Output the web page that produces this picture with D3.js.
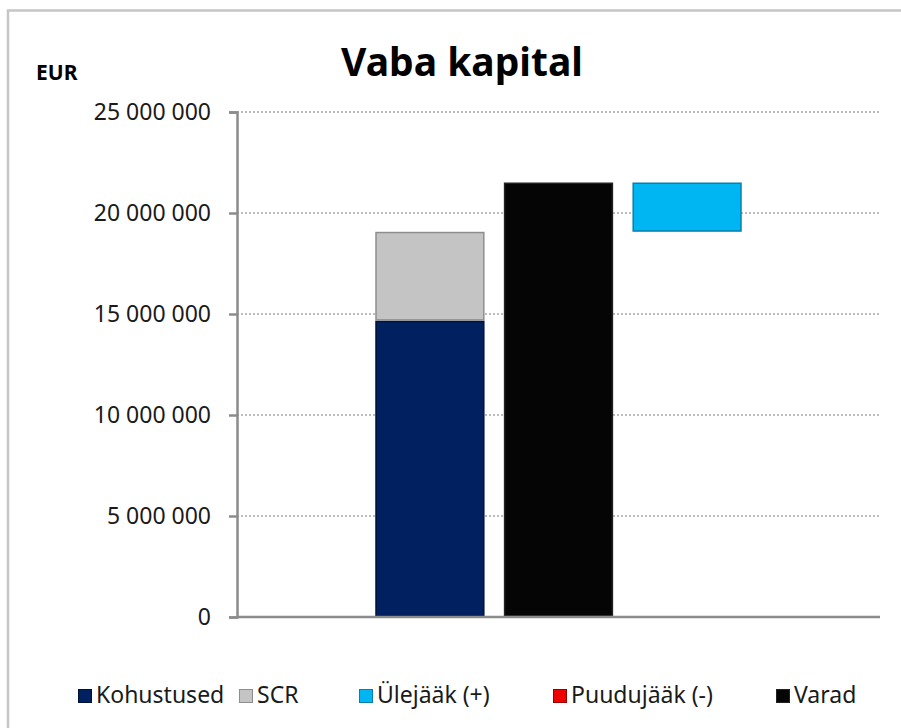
<!DOCTYPE html>
<html>
<head>
<meta charset="utf-8">
<script src="https://cdn.jsdelivr.net/npm/d3@7"></script>
<style>
  body { margin: 0; background: #fff; }
  svg { display: block; font-family: "Noto Sans", sans-serif; }
</style>
</head>
<body>
<svg id="chart" width="901" height="728"></svg>
<script>
// categories along x (first and last are empty slots)
const categories = ["s0", "s1", "s2", "s3", "s4"];
// series values per category
const kohustused = [0, 14670000, 0, 0, 0];
const scr = [0, 4400000, 0, 0, 0];
const varad = [0, 0, 21510000, 0, 0];
const ulejaakBase = [0, 0, 0, 19070000, 0];   // invisible offset
const ulejaak = [0, 0, 0, 2440000, 0];
const puudujaak = [0, 0, 0, 0, 0];
const yTicks = [0, 5000000, 10000000, 15000000, 20000000, 25000000];
const legendLabels = ["Kohustused", "SCR", "Ülejääk (+)", "Puudujääk (-)", "Varad"];

const colors = {
	base: "none",
	kohustused: "#002060",
	scr: "#c4c4c4",
	varad: "#050505",
	ulejaak: "#00b6f2",
	puudujaak: "#ee0000"
};
const strokes = {
	kohustused: "#00123a",
	scr: "#8e8e8e",
	varad: "#222",
	ulejaak: "#0a7fae",
	puudujaak: "#990000"
};

const svg = d3.select("#chart");

// outer frame
svg.append("rect")
	.attr("x", 8).attr("y", 10.5)
	.attr("width", 1000).attr("height", 1000)
	.attr("fill", "none")
	.attr("stroke", "#c6c6c6")
	.attr("stroke-width", 2.5);

const plotLeft = 237, plotRight = 880, plotTop = 112, plotBottom = 617;

const x = d3.scaleBand()
	.domain(categories)
	.range([plotLeft, plotRight])
	.paddingInner(0.15)
	.paddingOuter(0.075);

const y = d3.scaleLinear()
	.domain([0, 25000000])
	.range([plotBottom, plotTop]);

// dotted gridlines
svg.append("g")
	.selectAll("line")
	.data(yTicks.filter(d => d > 0))
	.enter()
	.append("line")
	.attr("x1", plotLeft).attr("x2", plotRight)
	.attr("y1", d => y(d)).attr("y2", d => y(d))
	.attr("stroke", "#a6a6a6")
	.attr("stroke-width", 1.5)
	.attr("stroke-dasharray", "2,2");

// stacked data
const rows = categories.map((c, i) => ({
	cat: c,
	base: ulejaakBase[i],
	kohustused: kohustused[i],
	scr: scr[i],
	varad: varad[i],
	ulejaak: ulejaak[i],
	puudujaak: puudujaak[i]
}));
const keys = ["base", "kohustused", "scr", "varad", "ulejaak", "puudujaak"];
const stacked = d3.stack().keys(keys)(rows);

svg.append("g")
	.selectAll("g")
	.data(stacked.filter(s => s.key !== "base"))
	.enter()
	.append("g")
	.attr("fill", s => colors[s.key])
	.attr("stroke", s => strokes[s.key])
	.attr("stroke-width", 1.5)
	.selectAll("rect")
	.data(s => s.filter(d => d[1] - d[0] > 0))
	.enter()
	.append("rect")
	.attr("x", d => x(d.data.cat) + 0.75)
	.attr("y", d => y(d[1]) + 0.75)
	.attr("width", x.bandwidth() - 1.5)
	.attr("height", d => y(d[0]) - y(d[1]) - 1.5);

// y axis
const yAxis = svg.append("g")
	.attr("transform", `translate(${plotLeft},0)`)
	.call(d3.axisLeft(y)
		.tickValues(yTicks)
		.tickSize(8)
		.tickPadding(18)
		.tickFormat(d => d3.format(",")(d).replace(/,/g, " ")));
yAxis.select(".domain").attr("stroke", "#8c8c8c").attr("stroke-width", 2.5);
yAxis.selectAll(".tick line").attr("stroke", "#8c8c8c").attr("stroke-width", 2.5);
yAxis.selectAll(".tick text")
	.attr("fill", "#1a1a1a")
	.style("font-size", "23px")
	.style("font-family", "Noto Sans, sans-serif");

// baseline
svg.append("line")
	.attr("x1", plotLeft).attr("x2", plotRight)
	.attr("y1", y(0)).attr("y2", y(0))
	.attr("stroke", "#8c8c8c")
	.attr("stroke-width", 2.5);

// title
svg.append("text")
	.attr("x", 462).attr("y", 76)
	.attr("text-anchor", "middle")
	.style("font-size", "39px")
	.style("font-weight", "bold")
	.text("Vaba kapital");

svg.append("text")
	.attr("x", 36).attr("y", 80)
	.style("font-size", "21px")
	.style("font-weight", "bold")
	.text("EUR");

// legend
const legendKeys = ["kohustused", "scr", "ulejaak", "puudujaak", "varad"];
const legendX = [78, 239, 359, 553, 776];
const legend = svg.append("g")
	.selectAll("g")
	.data(legendLabels)
	.enter()
	.append("g")
	.attr("transform", (d, i) => `translate(${legendX[i]},689)`);
legend.append("rect")
	.attr("x", 0.5).attr("y", 0.5)
	.attr("width", 13).attr("height", 13)
	.attr("fill", (d, i) => colors[legendKeys[i]])
	.attr("stroke", (d, i) => strokes[legendKeys[i]])
	.attr("stroke-width", 1);
legend.append("text")
	.attr("x", 18).attr("y", 14)
	.attr("fill", "#1a1a1a")
	.style("font-size", "23px")
	.text(d => d);
</script>
</body>
</html>
